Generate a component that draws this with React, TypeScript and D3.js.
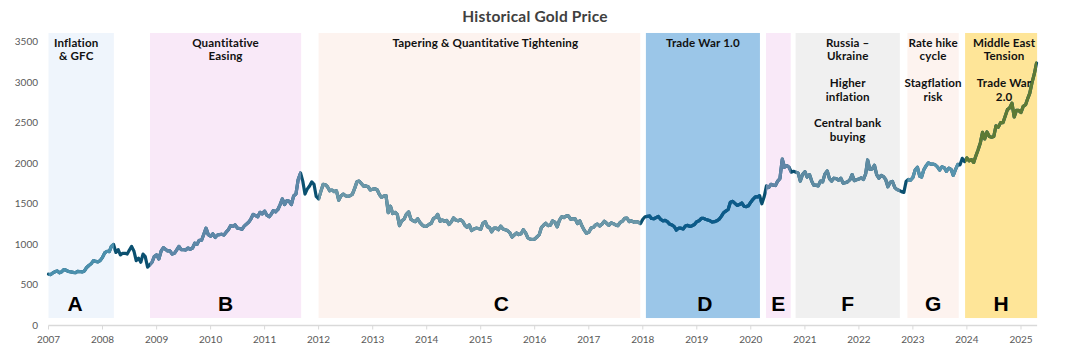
import React, { useEffect, useRef } from "react";
import * as d3 from "d3";

// gold price, USD/oz, sampled on the 1st and 16th of each month
const g2007 = [632, 628, 650, 665, 672, 650, 663, 690, 680, 666, 660, 655, 650, 666, 665, 660, 672, 715, 740, 760, 800, 790, 785, 800];
const g2008 = [840, 895, 915, 910, 975, 1000, 900, 935, 870, 890, 890, 880, 930, 975, 915, 800, 830, 780, 880, 850, 720, 750, 780, 850];
const g2009 = [870, 820, 920, 960, 940, 920, 920, 880, 890, 930, 975, 935, 935, 930, 955, 940, 955, 1015, 1000, 1050, 1050, 1125, 1200, 1120];
const g2010 = [1100, 1130, 1085, 1115, 1120, 1125, 1115, 1150, 1180, 1230, 1220, 1240, 1200, 1195, 1185, 1225, 1250, 1275, 1315, 1370, 1355, 1340, 1395, 1375];
const g2011 = [1410, 1360, 1340, 1375, 1415, 1400, 1430, 1490, 1560, 1490, 1540, 1530, 1490, 1595, 1620, 1800, 1880, 1780, 1620, 1680, 1720, 1770, 1740, 1590];
const g2012 = [1560, 1650, 1740, 1735, 1710, 1660, 1670, 1650, 1660, 1545, 1600, 1620, 1600, 1590, 1600, 1615, 1690, 1770, 1780, 1750, 1715, 1720, 1710, 1670];
const g2013 = [1680, 1685, 1670, 1610, 1580, 1595, 1600, 1390, 1470, 1380, 1395, 1370, 1230, 1290, 1310, 1370, 1400, 1310, 1290, 1280, 1315, 1270, 1240, 1220];
const g2014 = [1225, 1245, 1260, 1320, 1330, 1370, 1285, 1300, 1285, 1295, 1245, 1275, 1325, 1300, 1290, 1305, 1285, 1235, 1210, 1240, 1170, 1190, 1200, 1195];
const g2015 = [1185, 1260, 1280, 1215, 1210, 1155, 1200, 1200, 1180, 1225, 1190, 1180, 1170, 1145, 1090, 1115, 1140, 1120, 1130, 1180, 1140, 1080, 1065, 1060];
const g2016 = [1065, 1090, 1120, 1210, 1235, 1260, 1230, 1235, 1290, 1275, 1215, 1295, 1340, 1330, 1350, 1350, 1310, 1315, 1315, 1255, 1290, 1225, 1175, 1135];
const g2017 = [1150, 1200, 1210, 1240, 1250, 1225, 1250, 1285, 1260, 1235, 1265, 1255, 1240, 1230, 1270, 1285, 1320, 1325, 1280, 1290, 1275, 1280, 1275, 1255];
const g2018 = [1310, 1340, 1345, 1350, 1320, 1315, 1330, 1345, 1310, 1290, 1295, 1280, 1250, 1240, 1220, 1175, 1200, 1200, 1190, 1225, 1235, 1220, 1230, 1245];
const g2019 = [1280, 1290, 1320, 1320, 1310, 1300, 1290, 1275, 1280, 1290, 1310, 1345, 1390, 1410, 1430, 1520, 1530, 1505, 1480, 1490, 1510, 1470, 1465, 1475];
const g2020 = [1520, 1555, 1585, 1585, 1600, 1500, 1590, 1720, 1700, 1740, 1730, 1725, 1780, 1810, 2050, 1950, 1970, 1950, 1890, 1900, 1890, 1880, 1780, 1860];
const g2021 = [1895, 1830, 1860, 1780, 1730, 1730, 1720, 1780, 1770, 1865, 1905, 1810, 1780, 1815, 1810, 1790, 1815, 1755, 1760, 1770, 1795, 1860, 1785, 1795];
const g2022 = [1805, 1820, 1800, 1870, 2040, 1925, 1930, 1975, 1860, 1815, 1850, 1835, 1800, 1710, 1765, 1775, 1700, 1675, 1665, 1650, 1640, 1775, 1800, 1790];
const g2023 = [1825, 1915, 1950, 1840, 1830, 1920, 1970, 2005, 1990, 1990, 1980, 1955, 1915, 1955, 1945, 1900, 1940, 1925, 1850, 1920, 1985, 1980, 2060, 2020];
const g2024 = [2065, 2030, 2045, 2010, 2085, 2160, 2250, 2380, 2300, 2385, 2330, 2320, 2330, 2460, 2445, 2500, 2500, 2580, 2660, 2680, 2740, 2570, 2650, 2650];
const g2025 = [2625, 2700, 2720, 2800, 2860, 2990, 3100, 3235];

const years = [2007, 2008, 2009, 2010, 2011, 2012, 2013, 2014, 2015, 2016, 2017, 2018, 2019, 2020, 2021, 2022, 2023, 2024, 2025];
const yearly = [g2007, g2008, g2009, g2010, g2011, g2012, g2013, g2014, g2015, g2016, g2017, g2018, g2019, g2020, g2021, g2022, g2023, g2024, g2025];

const yTicks = [0, 500, 1000, 1500, 2000, 2500, 3000, 3500];

// regimes: letter, start, end, label lines (blank string = gap between blocks)
const bandLetters = ["A", "B", "C", "D", "E", "F", "G", "H"];
const bandStarts = ["2007-01-01", "2008-11-17", "2012-01-01", "2018-01-22", "2020-04-13", "2020-10-30", "2022-11-25", "2023-12-20"];
const bandEnds = ["2008-03-18", "2011-09-05", "2017-12-15", "2020-03-03", "2020-09-27", "2022-10-05", "2023-11-07", "2025-04-20"];
const bandLabels = [
    ["Inflation", "& GFC"],
    ["Quantitative", "Easing"],
    ["Tapering & Quantitative Tightening"],
    ["Trade War 1.0"],
    [],
    ["Russia –", "Ukraine", "", "Higher", "inflation", "", "Central bank", "buying"],
    ["Rate hike", "cycle", "", "Stagflation", "risk"],
    ["Middle East", "Tension", "", "Trade War", "2.0"]
];

const BAND_FILL = ["#eff5fc", "#f9e9f8", "#fdf3ef", "#9bc6e8", "#f9e9f8", "#f0f0f0", "#fdf3ef", "#fee598"];
const BAND_LINE = ["#4b90ad", "#5e87a8", "#6b97a8", "#0c5b8a", "#6186a7", "#5e8ba2", "#5894ae", "#5d7a34"];
const GAP_LINE = "#0b5070";
const LETTER_NUDGE: Record<string, number> = { A: -6, C: 22, D: 2 };
const LABEL_NUDGE: Record<string, number> = { A: -5, C: 6, H: 3 };

const W = 1065;
const H = 360;

function App() {
    const svgRef = useRef<SVGSVGElement>(null);

    useEffect(() => {
        const svg = d3.select(svgRef.current);
        svg.selectAll("*").remove();

        const parse = d3.timeParse("%Y-%m-%d");
        const points: { date: Date; value: number }[] = [];
        yearly.forEach((vals, yi) => {
            vals.forEach((v, i) => {
                points.push({ date: new Date(years[yi], Math.floor(i / 2), i % 2 ? 16 : 1), value: v });
            });
        });

        const x = d3
            .scaleTime()
            .domain([new Date(2007, 0, 1), new Date(2025, 0, 1)])
            .range([48.5, 1021]);
        const y = d3.scaleLinear().domain([0, 3500]).range([325.5, 41.5]);

        const bandTop = y(3605);
        const bandBottom = y(92);

        const bands = bandLetters.map((l, i) => ({
            letter: l,
            x0: x(parse(bandStarts[i]) as Date),
            x1: x(parse(bandEnds[i]) as Date),
            fill: BAND_FILL[i],
            line: BAND_LINE[i],
            labels: bandLabels[i]
        }));

        // background bands
        svg.append("g")
            .selectAll("rect")
            .data(bands)
            .enter()
            .append("rect")
            .attr("x", d => d.x0)
            .attr("width", d => d.x1 - d.x0)
            .attr("y", bandTop)
            .attr("height", bandBottom - bandTop)
            .attr("fill", d => d.fill);

        // clip paths so the line takes each band's tint
        const defs = svg.append("defs");
        bands.forEach((b, i) => {
            defs.append("clipPath")
                .attr("id", `band-clip-${i}`)
                .append("rect")
                .attr("x", b.x0)
                .attr("width", b.x1 - b.x0)
                .attr("y", 0)
                .attr("height", H);
        });

        const line = d3
            .line<{ date: Date; value: number }>()
            .x(d => x(d.date))
            .y(d => y(d.value))
            .curve(d3.curveLinear);

        const lineG = svg.append("g").attr("fill", "none").attr("stroke-width", 3.2).attr("stroke-linejoin", "round").attr("stroke-linecap", "round");
        lineG.append("path").attr("d", line(points)).attr("stroke", GAP_LINE);
        bands.forEach((b, i) => {
            lineG.append("path")
                .attr("d", line(points))
                .attr("stroke", b.line)
                .attr("clip-path", `url(#band-clip-${i})`);
        });

        // x axis
        const axisY = y(0);
        svg.append("line")
            .attr("x1", x(new Date(2007, 0, 1)))
            .attr("x2", x(new Date(2025, 3, 20)))
            .attr("y1", axisY)
            .attr("y2", axisY)
            .attr("stroke", "#d9d9d9")
            .attr("stroke-width", 1.5);

        const xTicks = years.map(yr => new Date(yr, 0, 1));
        svg.append("g")
            .selectAll("line")
            .data(xTicks)
            .enter()
            .append("line")
            .attr("x1", d => x(d))
            .attr("x2", d => x(d))
            .attr("y1", axisY)
            .attr("y2", axisY + 4)
            .attr("stroke", "#d9d9d9");

        svg.append("g")
            .selectAll("text")
            .data(xTicks)
            .enter()
            .append("text")
            .attr("x", d => x(d))
            .attr("y", 342.5)
            .attr("text-anchor", "middle")
            .attr("font-family", "Lato, sans-serif")
            .attr("font-size", 10)
            .attr("fill", "#595959")
            .text(d => d3.timeFormat("%Y")(d));

        // y labels
        svg.append("g")
            .selectAll("text")
            .data(yTicks)
            .enter()
            .append("text")
            .attr("x", 38)
            .attr("y", d => y(d) + 3.5)
            .attr("text-anchor", "end")
            .attr("font-family", "Lato, sans-serif")
            .attr("font-size", 10)
            .attr("fill", "#595959")
            .text(d => d);

        // band captions
        const labelG = svg.append("g")
            .attr("font-family", "Lato, sans-serif")
            .attr("font-weight", 700)
            .attr("font-size", 11.6)
            .attr("letter-spacing", 0.15)
            .attr("fill", "#111")
            .attr("text-anchor", "middle");
        bands.forEach(b => {
            const cx = (b.x0 + b.x1) / 2 + (LABEL_NUDGE[b.letter] || 0);
            b.labels.forEach((t, j) => {
                if (!t) return;
                labelG.append("text")
                    .attr("x", cx)
                    .attr("y", 47 + j * 13.4)
                    .text(t);
            });
        });

        // big letters
        svg.append("g")
            .selectAll("text")
            .data(bands)
            .enter()
            .append("text")
            .attr("x", d => (d.x0 + d.x1) / 2 + (LETTER_NUDGE[d.letter] || 0))
            .attr("y", 310.5)
            .attr("text-anchor", "middle")
            .attr("font-family", "'Liberation Sans', Arial, sans-serif")
            .attr("font-weight", 700)
            .attr("font-size", 21)
            .attr("fill", "#000")
            .text(d => d.letter);

        // title
        svg.append("text")
            .attr("x", 535)
            .attr("y", 22)
            .attr("text-anchor", "middle")
            .attr("font-family", "Lato, sans-serif")
            .attr("font-weight", 700)
            .attr("font-size", 15.5)
            .attr("letter-spacing", 0.2)
            .attr("fill", "#404040")
            .text("Historical Gold Price");
    }, []);

    return (
        <svg
            ref={svgRef}
            width={W}
            height={H}
            style={{ position: "absolute", left: 0, top: 0, background: "#fff" }}
        />
    );
}

export default App;
